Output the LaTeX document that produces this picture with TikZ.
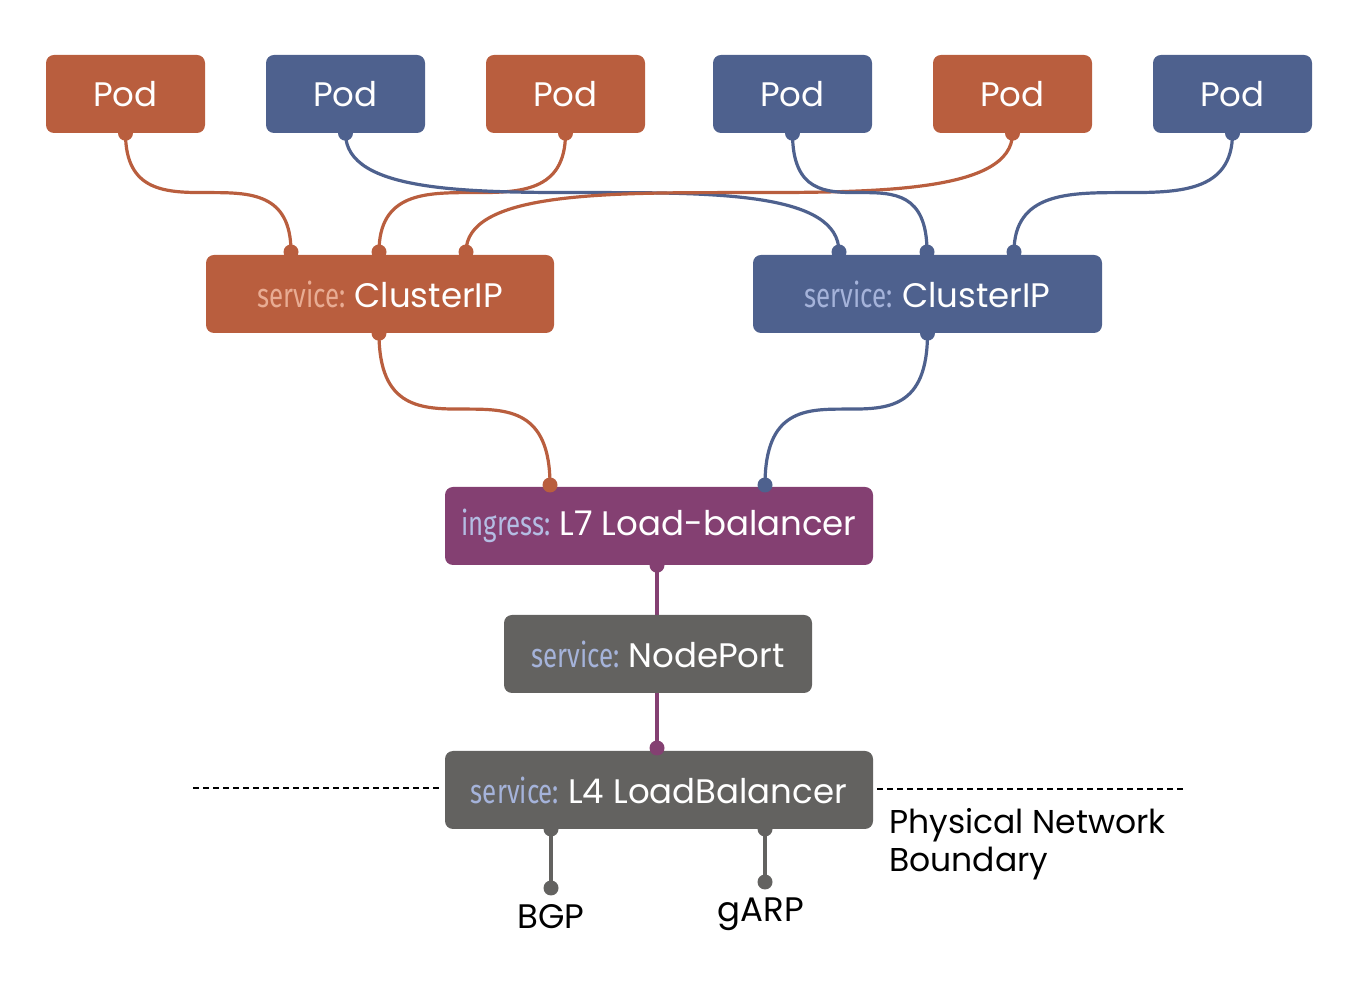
\documentclass[tikz,border=0pt]{standalone}
\usepackage{fontspec}
\setmainfont{Poppins}
\newfontfamily\condfont{Fira Sans}
\usetikzlibrary{calc}
\definecolor{corange}{HTML}{B95E3E}
\definecolor{cblue}{HTML}{4E618E}
\definecolor{cpurple}{HTML}{844072}
\definecolor{cgray}{HTML}{636260}
\definecolor{lorange}{HTML}{E8AC93}
\definecolor{lblue}{HTML}{A5B3DA}
\definecolor{lpurple}{HTML}{B4BDE3}
\newcommand\svclbl[2]{{\color{#1}\scalebox{0.76}[1]{\condfont #2}}}
\pgfdeclarelayer{bg}
\pgfsetlayers{bg,main}
\tikzset{
  box/.style={rounded corners=8pt, minimum height=78pt, text=white, inner sep=0pt,
    font=\fontsize{34}{40}\selectfont},
  conn/.style={line width=3.2pt},
  dotc/.style={radius=7.5pt},
  plain/.style={font=\fontsize{34}{40}\selectfont, text=black, inner sep=0pt},
  note/.style={font=\fontsize{33}{38}\selectfont, text=black, inner sep=0pt},
}
\begin{document}
\begin{tikzpicture}[x=1pt,y=1pt]
\useasboundingbox (0,0) rectangle (1368,980);
% pods
\node[box,fill=corange,minimum width=159pt] (p1) at (125.5,886) {Pod};
\node[box,fill=cblue,minimum width=159pt] (p2) at (345.5,886) {Pod};
\node[box,fill=corange,minimum width=159pt] (p3) at (565.5,886) {Pod};
\node[box,fill=cblue,minimum width=159pt] (p4) at (792.5,886) {Pod};
\node[box,fill=corange,minimum width=159pt] (p5) at (1012.5,886) {Pod};
\node[box,fill=cblue,minimum width=159pt] (p6) at (1232.5,886) {Pod};
% services
\node[box,fill=corange,minimum width=348pt] (co) at (380,686) {\svclbl{lorange}{service:} ClusterIP};
\node[box,fill=cblue,minimum width=349pt] (cb) at (927.5,686) {\svclbl{lblue}{service:} ClusterIP};
\node[box,fill=cpurple,minimum width=428pt] (ing) at (659,454) {\svclbl{lpurple}{ingress:} L7 Load-balancer};
\node[box,fill=cgray,minimum width=308pt] (np) at (658,326) {\svclbl{lblue}{service:} NodePort};
\node[box,fill=cgray,minimum width=428pt] (l4) at (659,190) {\svclbl{lblue}{service:} L4 LoadBalancer};
% ports
\coordinate (o1) at (291,728);
\coordinate (o2) at (379,728);
\coordinate (o3) at (466,728);
\coordinate (b1) at (839,728);
\coordinate (b2) at (927,728);
\coordinate (b3) at (1014,728);
\coordinate (io) at (550,495);
\coordinate (ib) at (765,495);
\coordinate (lt) at (657,232);
\coordinate (ls1) at (551,151);
\coordinate (ls2) at (765,151);
\coordinate (bgpdot) at (551,92);
\coordinate (garpdot) at (765,98);
\coordinate (dl) at (193,192);
\coordinate (dr) at (1183,191);
% labels
\node[plain] (bgp) at (551,63) {BGP};
\node[plain] (garp) at (761,66) {gARP};
\node[note,anchor=west,align=left] (pnb) at (889,136) {Physical Network\\Boundary};
% dashed boundary
\draw[line width=1.3pt,dash pattern=on 6pt off 4pt] (dl) -- ([xshift=-5pt]l4.west |- dl);
\draw[line width=1.3pt,dash pattern=on 6pt off 4pt] ([xshift=4pt]l4.east |- dr) -- (dr);
\begin{pgfonlayer}{bg}
  \draw[conn,corange] (p1.south) .. controls (p1.south |- o1) and (o1 |- p1.south) .. (o1);
  \draw[conn,corange] (p3.south) .. controls (p3.south |- o2) and (o2 |- p3.south) .. (o2);
  \draw[conn,cblue] (p2.south) .. controls (p2.south |- b1) and (b1 |- p2.south) .. (b1);
  \draw[conn,corange] (p5.south) .. controls (p5.south |- o3) and (o3 |- p5.south) .. (o3);
  \draw[conn,cblue] (p4.south) .. controls (p4.south |- b2) and (b2 |- p4.south) .. (b2);
  \draw[conn,cblue] (p6.south) .. controls (p6.south |- b3) and (b3 |- p6.south) .. (b3);
  \draw[conn,corange] ([xshift=-1pt]co.south) .. controls ([xshift=-1pt]co.south |- io) and (io |- co.south) .. (io);
  \draw[conn,cblue] (cb.south) .. controls (cb.south |- ib) and (ib |- cb.south) .. (ib);
  \draw[conn,cpurple] ([xshift=-2pt]ing.south) -- (lt);
  \draw[conn,cgray] (ls1) -- (bgpdot);
  \draw[conn,cgray] (ls2) -- (garpdot);
  \foreach \n/\c in {p1/corange,p2/cblue,p3/corange,p4/cblue,p5/corange,p6/cblue,cb/cblue}
    \fill[\c] (\n.south) circle[dotc];
  \fill[corange] ([xshift=-1pt]co.south) circle[dotc];
  \fill[cpurple] ([xshift=-2pt]ing.south) circle[dotc];
  \fill[cgray] (ls1) circle[dotc];
  \fill[cgray] (ls2) circle[dotc];
\end{pgfonlayer}
\foreach \p in {o1,o2,o3} \fill[corange] (\p) circle[dotc];
\foreach \p in {b1,b2,b3} \fill[cblue] (\p) circle[dotc];
\fill[corange] (io) circle[dotc];
\fill[cblue] (ib) circle[dotc];
\fill[cpurple] (lt) circle[dotc];
\fill[cgray] (bgpdot) circle[dotc];
\fill[cgray] (garpdot) circle[dotc];
\end{tikzpicture}
\end{document}
